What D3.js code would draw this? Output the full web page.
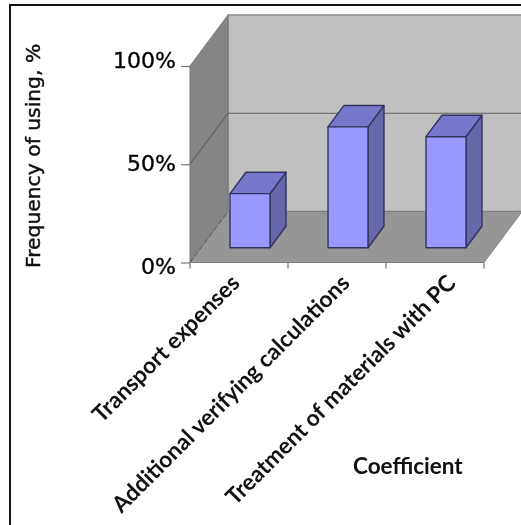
<!DOCTYPE html>
<html><head>
<meta charset="UTF-8">
<title>Frequency of using</title>
<script src="https://cdn.jsdelivr.net/npm/d3@7"></script>
<style>
  html, body { margin: 0; padding: 0; background: #fff; overflow: hidden; }
  svg { display: block; filter: blur(0.4px); }
  .lab { font-family: Lato, sans-serif; font-weight: 700; fill: #111; }
  .ytitle { font-family: "DejaVu Sans", sans-serif; fill: #111; stroke: #111; stroke-width: 0.45px; }
  .num { font-family: "DejaVu Sans", sans-serif; font-size: 22px; fill: #111; }
  .num text { stroke: #111; stroke-width: 0.4px; }
  .num .domain { display: none; }
</style>
</head>
<body>
<div id="chart"></div>
<script>
const categories = ['Transport expenses', 'Additional verifying calculations', 'Treatment of materials with PC'];
const values = [27.5, 61.5, 56.5];
const yTicks = [0, 50, 100];

const width = 521, height = 525;
const svg = d3.select('#chart').append('svg').attr('width', width).attr('height', height);

// front plane of the box, the rest is pushed back with project()
const x = d3.scaleBand().domain(categories).range([190, 484]).paddingInner(0.592).paddingOuter(0.296);
const y = d3.scaleLinear().domain([0, 100]).range([262.5, 66]);
// tick labels are spaced a bit wider than the ticks in the picture
const yLabel = d3.scaleLinear().domain([0, 100]).range([273, 67]);
const depthX = 38, depthY = -51;
const barZ0 = 0.29, barZ1 = 0.71;

const project = (px, py, z) => [px + depthX * z, py + depthY * z];
const poly = pts => 'M' + pts.map(p => p.join(',')).join('L') + 'Z';
const open = pts => 'M' + pts.map(p => p.join(',')).join('L');

const [xMin, xMax] = x.range();

// border, only left and top are in the crop
svg.append('path').attr('d', `M10,${height}V5H${width}`)
  .attr('fill', 'none').attr('stroke', '#111').attr('stroke-width', 2);

// box
svg.append('path')
  .attr('d', poly([project(xMin, y(0), 1), project(xMax, y(0), 1), project(xMax, y(100), 1), project(xMin, y(100), 1)]))
  .attr('fill', '#c0c0c0').attr('stroke', '#8c8c8c').attr('stroke-width', 1.5);
svg.append('path')
  .attr('d', poly([project(xMin, y(0), 0), project(xMin, y(0), 1), project(xMin, y(100), 1), project(xMin, y(100), 0)]))
  .attr('fill', '#858585').attr('stroke', '#777').attr('stroke-width', 1);
svg.append('path')
  .attr('d', poly([project(xMin, y(0), 0), project(xMax, y(0), 0), project(xMax, y(0), 1), project(xMin, y(0), 1)]))
  .attr('fill', '#969696').attr('stroke', '#808080').attr('stroke-width', 1);

// gridline running along side wall and back wall
svg.append('g').selectAll('path').data(yTicks.filter(d => d > 0 && d < 100)).join('path')
  .attr('d', d => open([project(xMin, y(d), 0), project(xMin, y(d), 1), project(xMax, y(d), 1)]))
  .attr('fill', 'none').attr('stroke', '#5f5f5f').attr('stroke-width', 1.2);
svg.append('path')
  .attr('d', open([project(xMin, y(0), 0), project(xMin, y(0), 1)]))
  .attr('fill', 'none').attr('stroke', '#555').attr('stroke-width', 1).attr('stroke-dasharray', '5,3');

// bars
const bars = svg.append('g').selectAll('g').data(categories).join('g')
  .attr('stroke', '#33335f').attr('stroke-width', 1.4).attr('stroke-linejoin', 'round');
const corners = (d, i) => {
  const a = x(d), b = x(d) + x.bandwidth();
  return { a, b, top: y(values[i]), base: y(0) };
};
bars.append('path').attr('fill', '#6666aa').attr('d', (d, i) => {
  const c = corners(d, i);
  return poly([project(c.b, c.base, barZ0), project(c.b, c.base, barZ1), project(c.b, c.top, barZ1), project(c.b, c.top, barZ0)]);
});
bars.append('path').attr('fill', '#7777cc').attr('d', (d, i) => {
  const c = corners(d, i);
  return poly([project(c.a, c.top, barZ0), project(c.b, c.top, barZ0), project(c.b, c.top, barZ1), project(c.a, c.top, barZ1)]);
});
bars.append('path').attr('fill', '#9999ff').attr('d', (d, i) => {
  const c = corners(d, i);
  return poly([project(c.a, c.base, barZ0), project(c.b, c.base, barZ0), project(c.b, c.top, barZ0), project(c.a, c.top, barZ0)]);
});

// y axis
const yAxis = svg.append('g').attr('transform', `translate(${xMin},0)`)
  .call(d3.axisLeft(y).tickValues(yTicks).tickFormat(d => d + '%').tickSize(9).tickPadding(5))
  .attr('class', 'num').attr('font-family', null).attr('font-size', null);
yAxis.selectAll('line').attr('stroke', '#777').attr('stroke-width', 1.2);
yAxis.selectAll('text').attr('dy', 0).attr('y', d => yLabel(d) - y(d));

// x ticks on the band edges
const edges = d3.range(categories.length + 1).map(i => xMin + i * x.step());
svg.append('g').selectAll('line').data(edges).join('line')
  .attr('x1', d => d).attr('x2', d => d).attr('y1', y(0)).attr('y2', y(0) + 6)
  .attr('stroke', '#777').attr('stroke-width', 1.2);

// category labels
const labelShift = [2, 14, 22];
svg.append('g').selectAll('text').data(categories).join('text')
  .attr('class', 'lab').attr('font-size', 22.8).attr('text-anchor', 'end')
  .attr('transform', (d, i) => `translate(${x(d) + x.bandwidth() / 2 + labelShift[i]},${y(0) + 22}) rotate(-45)`)
  .text(d => d);

svg.append('text').attr('class', 'ytitle').attr('font-size', 20.3)
  .attr('transform', `translate(40,268) rotate(-90)`)
  .text('Frequency of using, %');

svg.append('text').attr('class', 'lab').attr('font-size', 22.5).attr('x', 353).attr('y', 474)
  .text('Coefficient');
</script>
</body></html>
